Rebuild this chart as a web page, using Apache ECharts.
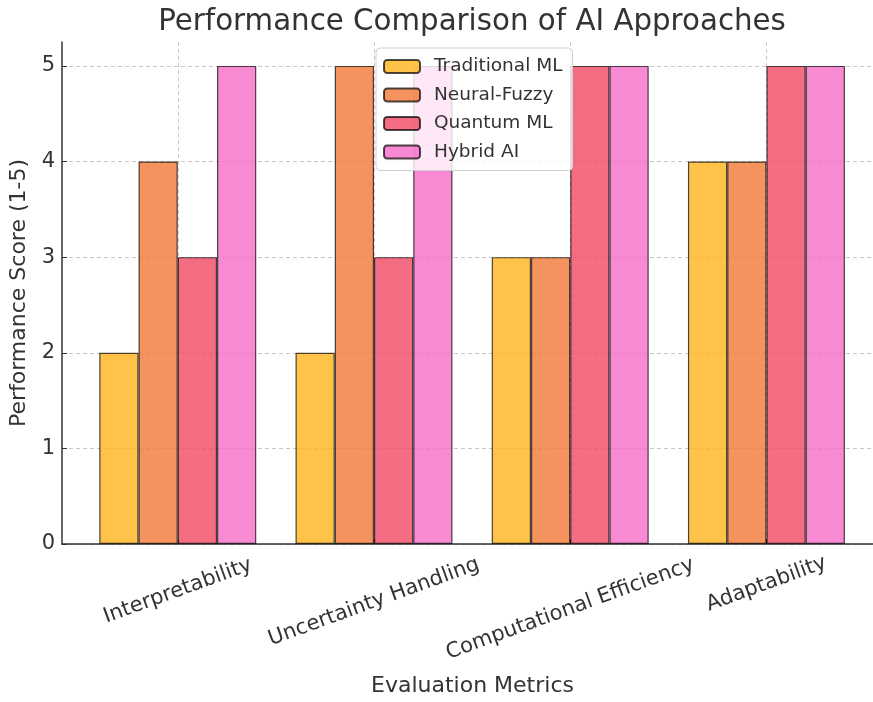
<!DOCTYPE html>
<html>
<head>
<meta charset="utf-8">
<script src="https://cdn.jsdelivr.net/npm/echarts@6/dist/echarts.min.js"></script>
<style>html,body{margin:0;padding:0;background:#fff}#c{width:873px;height:702px}</style>
</head>
<body>
<div id="c"></div>
<script>
const categories = ['Interpretability', 'Uncertainty Handling', 'Computational Efficiency', 'Adaptability'];
const seriesNames = ['Traditional ML', 'Neural-Fuzzy', 'Quantum ML', 'Hybrid AI'];
const traditionalML = [2, 2, 3, 4];
const neuralFuzzy = [4, 5, 3, 4];
const quantumML = [3, 3, 5, 5];
const hybridAI = [5, 5, 5, 5];
const yTicks = [0, 1, 2, 3, 4, 5];
const xTicks = [0, 1, 2, 3];

const colors = ['rgba(255,180,29,0.8)', 'rgba(242,120,55,0.8)', 'rgba(241,72,100,0.8)', 'rgba(246,107,200,0.8)'];
const values = [traditionalML, neuralFuzzy, quantumML, hybridAI];
const font = 'DejaVu Sans';
const txt = '#333';

// per-label rich styles (shift rotated labels so their tops line up like matplotlib)
const labelShift = [9, 20, 27, 2];
const rich = {};
labelShift.forEach((d, i) => {
  rich['s' + i] = {
    fontFamily: font, fontSize: 21, color: txt,
    padding: [1.88 * d, 0.684 * d, 0, 0]
  };
});

const chart = echarts.init(document.getElementById('c'), null, {renderer: 'canvas'});
chart.setOption({
  animation: false,
  backgroundColor: '#fff',
  title: {
    text: 'Performance Comparison of AI Approaches',
    left: 467, top: 3, textAlign: 'center',
    textStyle: {fontFamily: font, fontSize: 29.3, fontWeight: 'normal', color: txt}
  },
  legend: {
    data: seriesNames,
    orient: 'vertical',
    left: 376, top: 48,
    itemWidth: 36, itemHeight: 13, itemGap: 9.5,
    padding: [9, 10, 9, 7],
    backgroundColor: 'rgba(255,255,255,0.8)',
    borderColor: '#d0d0d0', borderWidth: 1, borderRadius: 4,
    textStyle: {fontFamily: font, fontSize: 18.5, color: txt, padding: [0, 0, 0, 9]},
    z: 10
  },
  grid: {left: 62, right: 0, top: 42, bottom: 151, containLabel: false},
  xAxis: {
    type: 'value',
    min: -0.59, max: 3.543,
    name: 'Evaluation Metrics',
    nameLocation: 'middle', nameGap: 131,
    nameTextStyle: {fontFamily: font, fontSize: 22, color: txt, verticalAlign: 'top', padding: [0, 0, 0, 10]},
    axisLine: {show: true, onZero: false, lineStyle: {color: '#333', width: 1.5}},
    axisTick: {show: true, inside: true, length: 5, customValues: xTicks, lineStyle: {color: '#333'}},
    axisLabel: {
      customValues: xTicks,
      rotate: 20, align: 'center', verticalAlign: 'middle', margin: 38,
      fontFamily: font, fontSize: 21, color: txt,
      formatter: v => {
        const i = Math.round(v);
        return '{s' + i + '|' + (categories[i] || '') + '}';
      },
      rich: rich
    },
    splitLine: {show: true, lineStyle: {color: '#c8c8c8', type: [4, 3], width: 1}}
  },
  yAxis: {
    type: 'value',
    min: 0, max: 5.25, interval: 1,
    name: 'Performance Score (1-5)',
    nameLocation: 'middle', nameGap: 24,
    nameTextStyle: {fontFamily: font, fontSize: 22, color: txt},
    axisLine: {show: true, onZero: false, lineStyle: {color: '#333', width: 1.5}},
    axisTick: {show: true, inside: true, length: 5, customValues: yTicks, lineStyle: {color: '#333'}},
    axisLabel: {customValues: yTicks, margin: 7, fontFamily: font, fontSize: 21, color: txt},
    splitLine: {show: true, lineStyle: {color: '#c8c8c8', type: [4, 3], width: 1}}
  },
  series: seriesNames.map((name, si) => ({
    name: name,
    type: 'bar',
    barGap: '0%',
    barCategoryGap: '20%',
    data: values[si].map((v, ci) => [ci, v]),
    itemStyle: {color: colors[si], borderColor: 'rgba(0,0,0,0.7)', borderWidth: 1.2}
  }))
});
</script>
</body>
</html>
